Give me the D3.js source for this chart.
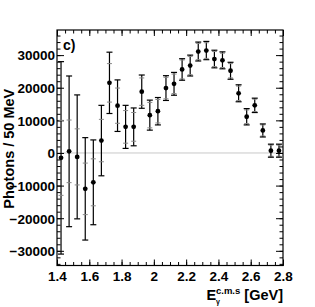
<!DOCTYPE html>
<html>
<head>
<meta charset="utf-8">
<script src="https://cdn.jsdelivr.net/npm/d3@7"></script>
<style>
    body { margin: 0; background: #fff; }
    text { font-family: "Liberation Sans", Arial, sans-serif; font-weight: bold; }
</style>
</head>
<body>
<div id="chart"></div>
<script>
// bin centres (50 MeV bins)
const energies = [1.425, 1.475, 1.525, 1.575, 1.625, 1.675, 1.725, 1.775, 1.825, 1.875,
    1.925, 1.975, 2.025, 2.075, 2.125, 2.175, 2.225, 2.275, 2.325, 2.375,
    2.425, 2.475, 2.525, 2.575, 2.625, 2.675, 2.725, 2.775];
const photons = [-1500, 500, -1200, -11000, -9000, 3800, 21500, 14500, 8000, 8000,
    18800, 11600, 12800, 19900, 21200, 25600, 26800, 31100, 31400, 28800,
    28400, 25200, 18300, 11100, 14600, 6900, 700, 700];
// total error (outer caps)
const totalErr = [29500, 23100, 19000, 15700, 13000, 10800, 9400, 7900, 6600, 5800,
    5100, 4600, 4200, 3800, 3500, 3300, 3200, 2900, 2800, 2700,
    2600, 2600, 2600, 2500, 2200, 2000, 2000, 2000];
// statistical error (inner grey caps)
const statErr = [11500, 9600, 8600, 7900, 7200, 6500, 5900, 5400, 5000, 4400,
    4200, 3900, 3600, 3300, 3000, 2900, 2800, 2500, 2400, 2300,
    2200, 2200, 2200, 2100, 1900, 1700, 1700, 1700];
const xTicks = [1.4, 1.6, 1.8, 2.0, 2.2, 2.4, 2.6, 2.8];
const yTicks = [-30000, -20000, -10000, 0, 10000, 20000, 30000];

const margin = { top: 30, right: 32, bottom: 41.5, left: 57 };
const width = 315 - margin.left - margin.right;
const height = 307 - margin.top - margin.bottom;

const svg = d3.select("#chart")
    .append("svg")
    .attr("width", 315)
    .attr("height", 307)
    .append("g")
    .attr("transform", `translate(${margin.left},${margin.top})`);

const x = d3.scaleLinear().domain([1.4, 2.8]).range([0, width]);
const y = d3.scaleLinear().domain([-34500, 37700]).range([height, 0]);

// zero line
svg.append("line")
    .attr("x1", 0).attr("x2", width)
    .attr("y1", y(0)).attr("y2", y(0))
    .attr("stroke", "#c8c8c8")
    .attr("stroke-width", 1);

// ticks on all four sides, pointing inward (ROOT style)
const xMinor = d3.range(1.4, 2.8001, 0.05);
const yMinor = d3.range(-34000, 37700, 2000);

function tickAxis(axis, cls, transform) {
    svg.append("g")
        .attr("class", cls)
        .attr("transform", transform)
        .call(axis);
}

tickAxis(d3.axisBottom(x).tickValues(xMinor).tickSize(-3.5).tickFormat(""), "xminor", `translate(0,${height})`);
tickAxis(d3.axisBottom(x).tickValues(xTicks).tickSize(-6).tickPadding(6).tickFormat(d3.format("~g")), "xaxis", `translate(0,${height})`);
tickAxis(d3.axisTop(x).tickValues(xMinor).tickSize(-3.5).tickFormat(""), "xminor", "translate(0,0)");
tickAxis(d3.axisTop(x).tickValues(xTicks).tickSize(-6).tickFormat(""), "xminor", "translate(0,0)");

tickAxis(d3.axisLeft(y).tickValues(yMinor).tickSize(-3.5).tickFormat(""), "yminor", "translate(0,0)");
tickAxis(d3.axisLeft(y).tickValues(yTicks).tickSize(-7).tickPadding(2).tickFormat(d3.format("d")), "yaxis", "translate(0,0)");
tickAxis(d3.axisRight(y).tickValues(yMinor).tickSize(-3.5).tickFormat(""), "yminor", `translate(${width},0)`);
tickAxis(d3.axisRight(y).tickValues(yTicks).tickSize(-7).tickFormat(""), "yminor", `translate(${width},0)`);

svg.selectAll(".domain").remove();
svg.selectAll(".tick line").attr("stroke", "#000");
svg.selectAll(".xaxis text, .yaxis text")
    .attr("font-size", 13.5)
    .attr("fill", "#000");
svg.selectAll(".yaxis text").attr("dy", "0.36em");

// frame
svg.append("rect")
    .attr("width", width)
    .attr("height", height)
    .attr("fill", "none")
    .attr("stroke", "#000")
    .attr("stroke-width", 1.2);

// error bars
const points = energies.map((e, i) => ({ e: e, v: photons[i], tot: totalErr[i], stat: statErr[i] }));

const bars = svg.append("g").selectAll("g")
    .data(points)
    .join("g");

bars.append("line")
    .attr("x1", d => x(d.e)).attr("x2", d => x(d.e))
    .attr("y1", d => y(d.v + d.tot)).attr("y2", d => y(d.v - d.tot))
    .attr("stroke", "#000")
    .attr("stroke-width", 1.2);

[d => d.v + d.stat, d => d.v - d.stat].forEach(f => {
    bars.append("line")
        .attr("x1", d => x(d.e) - 2.5).attr("x2", d => x(d.e) + 2.5)
        .attr("y1", d => y(f(d))).attr("y2", d => y(f(d)))
        .attr("stroke", "#888")
        .attr("stroke-width", 1);
});

[d => d.v + d.tot, d => d.v - d.tot].forEach(f => {
    bars.append("line")
        .attr("x1", d => x(d.e) - 3).attr("x2", d => x(d.e) + 3)
        .attr("y1", d => y(f(d))).attr("y2", d => y(f(d)))
        .attr("stroke", "#000")
        .attr("stroke-width", 1.2);
});

bars.append("circle")
    .attr("cx", d => x(d.e))
    .attr("cy", d => y(d.v))
    .attr("r", 2.4)
    .attr("fill", "#000");

// panel label
svg.append("text")
    .attr("x", 6)
    .attr("y", 20)
    .attr("font-size", 14)
    .text("c)");

// axis titles
svg.append("text")
    .attr("transform", `translate(${-43},${height / 2 + 1}) rotate(-90)`)
    .attr("text-anchor", "middle")
    .attr("font-size", 14.5)
    .text("Photons / 50 MeV");

const xt = svg.append("text")
    .attr("x", width)
    .attr("y", height + 34)
    .attr("text-anchor", "end")
    .attr("font-size", 14.5);
xt.append("tspan").text("E");
xt.append("tspan").attr("font-size", 7).attr("dy", 4).text("γ");
xt.append("tspan").attr("font-size", 9.5).attr("dx", -4).attr("dy", -10).text("c.m.s");
xt.append("tspan").attr("dy", 6).text(" [GeV]");
</script>
</body>
</html>
